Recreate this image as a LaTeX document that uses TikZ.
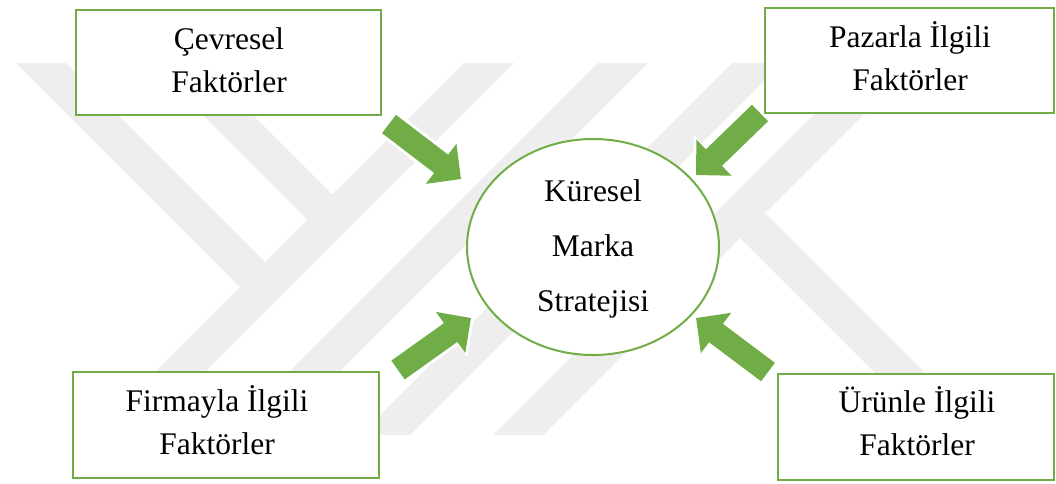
\documentclass[tikz,border=0pt]{standalone}
\usepackage{fontspec}
\setmainfont{Liberation Serif}
\usetikzlibrary{arrows.meta,shapes.geometric}
\definecolor{grn}{RGB}{112,173,71}
\definecolor{wm}{RGB}{238,238,238}
\newcommand\lh{\rule{0pt}{30pt}}
\begin{document}
\begin{tikzpicture}[x=1pt,y=-1pt,
  box/.style={draw=grn, line width=2.2pt, fill=white, inner sep=0pt},
  txt/.style={font=\fontsize{31.5}{43}\selectfont, align=center, inner sep=0pt, anchor=north},
  ctxt/.style={font=\fontsize{31.5}{55}\selectfont, align=center, inner sep=0pt, anchor=north},
  band/.style={fill=wm},
  halo/.style={draw=white, line width=29pt, -{Triangle[width=58pt,length=30pt]}, shorten >=-4pt, shorten <=-3pt},
  barrow/.style={draw=grn, line width=23pt, -{Triangle[width=49pt,length=25pt]}}]
\useasboundingbox (0,0) rectangle (1056,483);
\fill[white] (0,0) rectangle (1056,483);
% watermark bands
\fill[band] (16,63) -- (66,63) -- (265,262) -- (240,287) -- cycle;
\fill[band] (151,63) -- (201,63) -- (332.5,194.5) -- (307.5,219.5) -- cycle;
\fill[band] (464,63) -- (514,63) -- (142,435) -- (92,435) -- cycle;
\fill[band] (598,63) -- (648,63) -- (276,435) -- (226,435) -- cycle;
\fill[band] (732,63) -- (782,63) -- (410,435) -- (360,435) -- cycle;
\fill[band] (865,63) -- (915,63) -- (543,435) -- (493,435) -- cycle;
\fill[band] (765,213) -- (987,435) -- (937,435) -- (740,238) -- cycle;
% arrows
\coordinate (aTL1) at (389,124); \coordinate (aTL2) at (461,179);
\coordinate (aBL1) at (398,370); \coordinate (aBL2) at (471,318);
\coordinate (aTR1) at (760,113); \coordinate (aTR2) at (696,175);
\coordinate (aBR1) at (768,372); \coordinate (aBR2) at (696,318);
\foreach \a in {TL,BL,TR,BR}{
  \draw[halo] (a\a1) -- (a\a2);
  \draw[barrow] (a\a1) -- (a\a2);
}
% boxes
\node[box, minimum width=305pt, minimum height=105pt] (bTL) at (228.5,62.5) {};
\node[box, minimum width=289pt, minimum height=105pt] (bTR) at (909.5,60.5) {};
\node[box, minimum width=306pt, minimum height=106pt] (bBL) at (226,425) {};
\node[box, minimum width=276pt, minimum height=106pt] (bBR) at (916,427) {};
\node[ellipse, draw=grn, line width=2pt, fill=white, inner sep=0pt, minimum width=252pt, minimum height=216pt] (ell) at (593,247) {};
% texts
\node[txt] (tTL) at (229,19.3) {\lh Çevresel\\Faktörler};
\node[txt] (tTR) at (910,17.3) {\lh Pazarla İlgili\\Faktörler};
\node[txt] (tBL) at (217,381.7) {\lh Firmayla İlgili\\Faktörler};
\node[txt] (tBR) at (917,382.3) {\lh Ürünle İlgili\\Faktörler};
\node[ctxt] (tC) at (593,171.7) {\lh Küresel\\Marka\\Stratejisi};
\end{tikzpicture}
\end{document}
